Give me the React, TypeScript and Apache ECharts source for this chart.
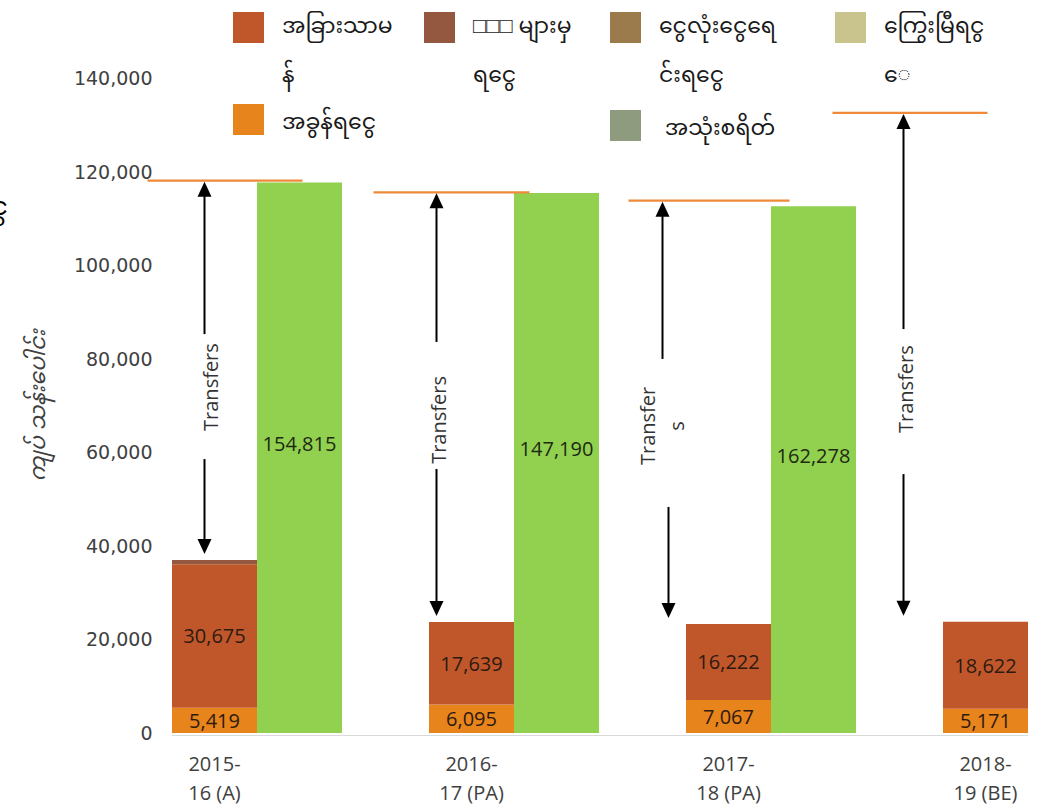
import React, { useEffect, useRef } from "react";
import * as echarts from "echarts";

// ---------- data ----------
const CATEGORIES = ["2015-\n16 (A)", "2016-\n17 (PA)", "2017-\n18 (PA)", "2018-\n19 (BE)"];
const TAX_REVENUE = [5419, 6095, 7067, 5171];
const OTHER_ORDINARY = [30675, 17639, 16222, 18622];
const OTHER_SOURCES = [900, 0, 0, 0];
const CAPITAL_RECEIPTS = [0, 0, 0, 0];
const DEBT_RECEIPTS = [0, 0, 0, 0];
const EXPENDITURE_SHARE = [0, 0, 0, 0];
const TRANSFER_BAR_HEIGHT = [117690, 115430, 112570, null];
const TRANSFER_BAR_LABELS = ["154,815", "147,190", "162,278", ""];
const TOTAL_LINE = [118050, 115560, 113790, 132540];
const TRANSFER_TEXT_Y = [73940, 66910, 65630, 73510];
const TRANSFER_TEXT = ["Transfers", "Transfers", "Transfer\ns", "Transfers"];
const Y_MAX = 140000;
const Y_STEP = 20000;

const NAMES = {
  other: "အခြားသာမန်",
  sources: "□□□ များမှ ရငွေ",
  capital: "ငွေလုံးငွေရင်းရငွေ",
  debt: "ကြွေးမြီရငွေ",
  tax: "အခွန်ရငွေ",
  exp: "အသုံးစရိတ်",
};
const LEGEND_LINES: Record<string, string[]> = {
  [NAMES.other]: ["အခြားသာမ", "န်"],
  [NAMES.sources]: ["□□□ များမှ", "ရငွေ"],
  [NAMES.capital]: ["ငွေလုံးငွေရေ", "င်းရငွေ"],
  [NAMES.debt]: ["ကြွေးမြီရငွ", "ေ"],
  [NAMES.tax]: ["အခွန်ရငွေ"],
  [NAMES.exp]: [" အသုံးစရိတ်"],
};

// ---------- styles / layout ----------
const COLORS = {
  other: "#c0572b",
  sources: "#93583f",
  capital: "#9b7b4c",
  debt: "#c9c38d",
  tax: "#e8841c",
  exp: "#8f9b7f",
  green: "#92d050",
  line: "#ee8a3a",
};
const MM_FONT = "'Noto Sans Myanmar', 'Padauk', 'Myanmar Text', 'Noto Sans', sans-serif";
const LEG_LH = 49;
const LEGEND_LAYOUT = [
  { key: "other", x: 233, y: 12 },
  { key: "sources", x: 424, y: 12 },
  { key: "capital", x: 610, y: 12 },
  { key: "debt", x: 835, y: 12 },
  { key: "tax", x: 233, y: 104 },
  { key: "exp", x: 610, y: 110 },
];
// pixel offsets of the hand-drawn annotations, relative to the stacked bar centre
const ANNOT_LAYOUT = [
  { l: -67, r: 88, up: -10, dn: -10, tx: -4, a: 53, b: 72 },
  { l: -98, r: 58, up: -35, dn: -35, tx: -33, a: 78, b: 49 },
  { l: -100, r: 61, up: -66, dn: -60, tx: -67, a: 67, b: 81 },
  { l: -153, r: 2, up: -82, dn: -82, tx: -80, a: 60, b: 85 },
];

const GRID_LEFT = 214.5;
const GRID_TOP = 78;
const GRID_H = 657;
const BAR_W = 85;

export default function App() {
  const ref = useRef<HTMLDivElement>(null);
  useEffect(() => {
    if (!ref.current) return;
    const chart = echarts.init(ref.current, undefined, { renderer: "svg" });
    const stackTotals = CATEGORIES.map(
      (_, i) =>
        TAX_REVENUE[i] + OTHER_ORDINARY[i] + OTHER_SOURCES[i] + CAPITAL_RECEIPTS[i] + DEBT_RECEIPTS[i] + EXPENDITURE_SHARE[i]
    );
    const fmt = (v: number) => v.toLocaleString("en-US");

    const stackLabel = {
      show: true,
      position: "inside",
      color: "#2e1a10",
      fontFamily: "'Open Sans', sans-serif",
      fontSize: 20,
      formatter: (p: any) => (p.value ? fmt(p.value) : ""),
    };
    const stackSeries = (name: string, data: number[], color: string, label: any) => ({
      type: "bar",
      name,
      stack: "rev",
      data,
      barWidth: BAR_W,
      barGap: "0%",
      clip: false,
      itemStyle: { color },
      label,
      emphasis: { disabled: true },
    });

    const legends = LEGEND_LAYOUT.map((it) => {
      const name = (NAMES as any)[it.key];
      const lines = LEGEND_LINES[name];
      const c = it.y + 15.5;
      const twoLines = lines.length === 2;
      const gapH = twoLines ? LEG_LH : 8;
      const lineH = twoLines ? LEG_LH : 30;
      const boxH = gapH + lines.length * lineH;
      return {
        data: [name],
        left: it.x,
        top: Math.min(c - boxH / 2, it.y),
        padding: 0,
        itemWidth: 31,
        itemHeight: 31,
        icon: "rect",
        selectedMode: false,
        formatter: () => ["{g| }", ...lines.map((l) => `{t|${l}}`)].join("\n"),
        textStyle: {
          fontFamily: MM_FONT,
          fontSize: 22,
          color: "#1a1a1a",
          padding: [0, 0, 0, 13],
          rich: {
            g: { fontSize: 4, lineHeight: gapH, height: gapH },
            t: { fontFamily: MM_FONT, fontSize: 22, color: "#1a1a1a", lineHeight: lineH, height: lineH },
          },
        },
      };
    });

    const option: any = {
      animation: false,
      backgroundColor: "#ffffff",
      legend: legends,
      grid: [
        { left: GRID_LEFT, top: GRID_TOP, width: 771, height: GRID_H },
        { left: 172, top: GRID_TOP, width: 856, height: GRID_H },
      ],
      xAxis: [
        {
          type: "category",
          data: CATEGORIES,
          boundaryGap: false,
          axisLine: { show: false },
          axisTick: { show: false },
          axisLabel: {
            margin: 16,
            color: "#404040",
            fontFamily: "'Open Sans', sans-serif",
            fontSize: 20,
            lineHeight: 29,
          },
        },
        {
          type: "category",
          gridIndex: 1,
          data: CATEGORIES,
          axisLine: { show: true, lineStyle: { color: "#d9d9d9", width: 1 } },
          axisTick: { show: false },
          axisLabel: { show: false },
        },
      ],
      yAxis: [
        {
          type: "value",
          min: 0,
          max: Y_MAX,
          interval: Y_STEP,
          splitLine: { show: false },
          axisLine: { show: false },
          axisTick: { show: false },
          axisLabel: {
            margin: 62,
            color: "#404040",
            fontFamily: "'DejaVu Sans', sans-serif",
            fontSize: 19,
            formatter: (v: number) => fmt(v),
          },
          name: "ကျပ် သန်းပေါင်း",
          nameLocation: "middle",
          nameRotate: 90,
          nameGap: 164,
          nameTextStyle: {
            fontFamily: MM_FONT,
            fontStyle: "italic",
            fontSize: 22,
            color: "#404040",
          },
        },
        { type: "value", gridIndex: 1, min: 0, max: Y_MAX, show: false },
      ],
      series: [
        {
          type: "bar",
          name: "spacer",
          data: CATEGORIES.map(() => null),
          barWidth: BAR_W,
          barGap: "0%",
          clip: false,
        },
        stackSeries(NAMES.tax, TAX_REVENUE, COLORS.tax, stackLabel),
        stackSeries(NAMES.other, OTHER_ORDINARY, COLORS.other, stackLabel),
        stackSeries(NAMES.sources, OTHER_SOURCES, COLORS.sources, { show: false }),
        stackSeries(NAMES.capital, CAPITAL_RECEIPTS, COLORS.capital, { show: false }),
        stackSeries(NAMES.debt, DEBT_RECEIPTS, COLORS.debt, { show: false }),
        stackSeries(NAMES.exp, EXPENDITURE_SHARE, COLORS.exp, { show: false }),
        {
          type: "bar",
          name: "Transfers",
          data: TRANSFER_BAR_HEIGHT,
          barWidth: BAR_W,
          barGap: "0%",
          clip: false,
          itemStyle: { color: COLORS.green },
          emphasis: { disabled: true },
          label: {
            show: true,
            position: "inside",
            offset: [0, -14],
            color: "#1d2a10",
            fontFamily: "'Open Sans', sans-serif",
            fontSize: 20,
            formatter: (p: any) => TRANSFER_BAR_LABELS[p.dataIndex],
          },
        },
        {
          type: "custom",
          name: "annotations",
          silent: true,
          z: 10,
          data: CATEGORIES.map((_, i) => [i, TOTAL_LINE[i], stackTotals[i], TRANSFER_TEXT_Y[i]]),
          renderItem: (params: any, api: any) => {
            const L = ANNOT_LAYOUT[params.dataIndex];
            const i = api.value(0);
            const [cx, yTop] = api.coord([i, api.value(1)]);
            const yStack = api.coord([i, api.value(2)])[1];
            const yText = api.coord([i, api.value(3)])[1];
            const yTip = yStack - 6;
            const ux = cx + L.up;
            const dx = cx + L.dn;
            const black = { stroke: "#000", lineWidth: 2 };
            return {
              type: "group",
              children: [
                {
                  type: "line",
                  shape: { x1: cx + L.l, y1: yTop, x2: cx + L.r, y2: yTop },
                  style: { stroke: COLORS.line, lineWidth: 2.2 },
                },
                {
                  type: "line",
                  shape: { x1: ux, y1: yTop + 14, x2: ux, y2: yText - L.a },
                  style: black,
                },
                {
                  type: "polygon",
                  shape: { points: [[ux, yTop + 1], [ux - 7, yTop + 16], [ux + 7, yTop + 16]] },
                  style: { fill: "#000" },
                },
                {
                  type: "line",
                  shape: { x1: dx, y1: yText + L.b, x2: dx, y2: yTip - 14 },
                  style: black,
                },
                {
                  type: "polygon",
                  shape: { points: [[dx, yTip], [dx - 7, yTip - 15], [dx + 7, yTip - 15]] },
                  style: { fill: "#000" },
                },
                {
                  type: "text",
                  x: cx + L.tx,
                  y: yText,
                  rotation: Math.PI / 2,
                  style: {
                    text: TRANSFER_TEXT[params.dataIndex],
                    fill: "#333",
                    font: "20px 'Open Sans', sans-serif",
                    lineHeight: 29,
                    align: "center",
                    verticalAlign: "middle",
                  },
                },
              ],
            };
          },
        },
      ],
      graphic: [
        {
          type: "text",
          left: -9,
          top: 196,
          style: { text: "ငွ", fill: "#000", font: `26px ${MM_FONT}` },
        },
      ],
    };
    chart.setOption(option);
    return () => chart.dispose();
  }, []);
  return (
    <div
      ref={ref}
      style={{ position: "absolute", left: 0, top: 0, width: 1040, height: 807, background: "#fff" }}
    />
  );
}
